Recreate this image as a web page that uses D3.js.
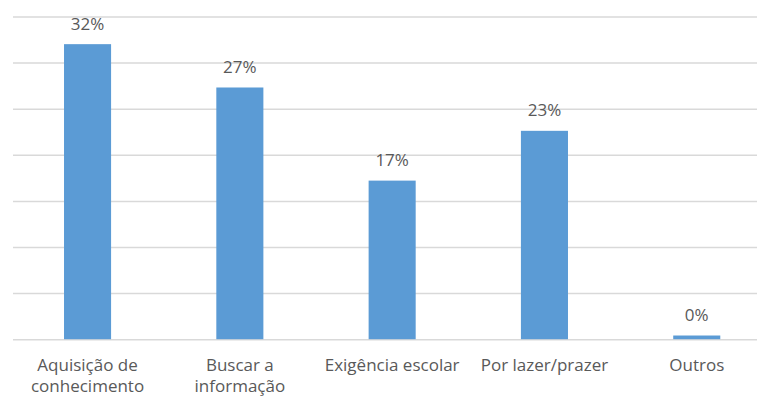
<!DOCTYPE html>
<html>
<head>
<meta charset="utf-8">
<script src="https://cdn.jsdelivr.net/npm/d3@7/dist/d3.min.js"></script>
<style>
  html, body { margin: 0; padding: 0; background: #fff; }
  svg { display: block; }
  text { font-family: "Open Sans", "Noto Sans", sans-serif; fill: #595959; }
</style>
</head>
<body>
<svg id="chart" width="757" height="396"></svg>
<script>
// Reasons for reading, share of answers (%)
const categories = [
  ["Aquisição de", "conhecimento"],
  ["Buscar a", "informação"],
  ["Exigência escolar"],
  ["Por lazer/prazer"],
  ["Outros"]
];
const values = [32.0, 27.3, 17.2, 22.6, 0.4];
const gridTicks = [0, 5, 10, 15, 20, 25, 30, 35];

const svg = d3.select("#chart");
const plot = { left: 13, right: 757, top: 16.5, bottom: 339.2 };

const keys = categories.map((c, i) => i);
const x = d3.scaleBand()
  .domain(keys)
  .range([11.4, 772.9])
  .paddingInner(0.691)
  .paddingOuter(0.3455);

const y = d3.scaleLinear()
  .domain([0, 35])
  .range([plot.bottom, plot.top]);

// horizontal gridlines
const gridAxis = d3.axisLeft(y)
  .tickValues(gridTicks)
  .tickSize(-(plot.right - plot.left))
  .tickFormat("");
const g = svg.append("g")
  .attr("transform", `translate(${plot.left},0)`)
  .call(gridAxis);
g.select(".domain").remove();
g.selectAll(".tick line")
  .attr("stroke", "#d9d9d9")
  .attr("stroke-width", 1.5);

// bars
svg.append("g").selectAll("rect")
  .data(values)
  .join("rect")
  .attr("x", (d, i) => x(i))
  .attr("width", x.bandwidth())
  .attr("y", d => y(d))
  .attr("height", d => y(0) - y(d))
  .attr("fill", "#5b9bd5");

// value labels
svg.append("g").selectAll("text")
  .data(values)
  .join("text")
  .attr("x", (d, i) => x(i) + x.bandwidth() / 2)
  .attr("y", d => y(d) - 14.4)
  .attr("text-anchor", "middle")
  .attr("font-size", 17)
  .text(d => Math.round(d) + "%");

// category labels (two-line labels keep their descenders inside the frame)
const xAxis = d3.axisBottom(x).tickSize(0).tickFormat("");
const xa = svg.append("g")
  .attr("transform", `translate(0,${plot.bottom})`)
  .call(xAxis);
xa.select(".domain").remove();
xa.selectAll(".tick")
  .append("text")
  .attr("text-anchor", "middle")
  .attr("font-size", 17)
  .each(function(i) {
    const t = d3.select(this);
    categories[i].forEach((line, k) => {
      t.append("tspan")
        .attr("x", 0)
        .attr("y", 31.5 + k * 21)
        .text(line);
    });
  });
</script>
</body>
</html>
